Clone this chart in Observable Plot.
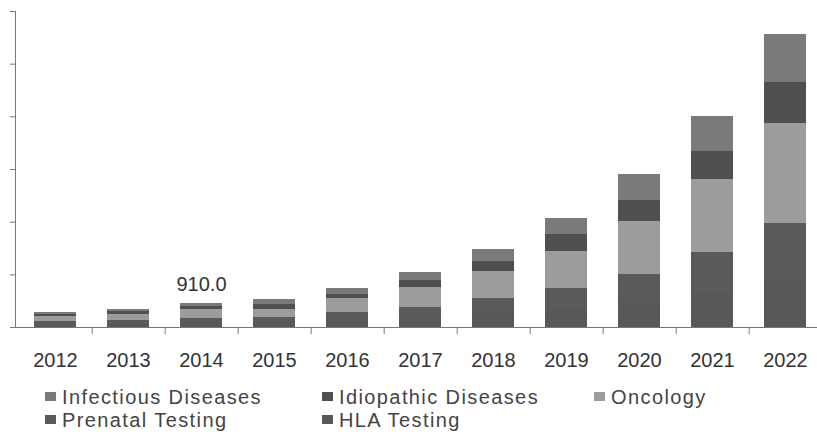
<!DOCTYPE html>
<html>
<head>
<meta charset="utf-8">
<script src="https://cdn.jsdelivr.net/npm/d3@7"></script>
<script src="https://cdn.jsdelivr.net/npm/@observablehq/plot@0.6"></script>
<style>
  body { margin: 0; background: #fff; font-family: "Liberation Sans", Arial, sans-serif; }
  #wrap { position: relative; width: 817px; height: 440px; overflow: hidden; background: #fff; }
  #chart svg { display: block; }
  .leg { position: absolute; font-size: 20px; letter-spacing: 1.4px; color: #444; line-height: 23px; white-space: nowrap; height: 23px; }
  .leg .sw { position: absolute; left: 0; top: 6px; width: 11px; height: 9px; }
  .leg .tx { position: absolute; left: 17px; top: 0; }
</style>
</head>
<body>
<div id="wrap">
  <div id="chart"></div>
  <div id="legend"></div>
</div>
<script>
const years = ["2012","2013","2014","2015","2016","2017","2018","2019","2020","2021","2022"];
const seriesNames = ["Infectious Diseases","Idiopathic Diseases","Oncology","Prenatal Testing","HLA Testing"];
const seriesColors = ["#7a7a7a","#4f4f4f","#9c9c9c","#5a5a5a","#585858"];

const infectious = [80, 76, 106, 191, 229, 305, 457, 621, 991, 1334, 1844];
const idiopathic = [84, 95, 126, 191, 152, 267, 381, 648, 789, 1055, 1524];
const oncology   = [191, 229, 338, 305, 533, 762, 1029, 1398, 2000, 2793, 3810];
const prenatal   = [126, 147, 187, 216, 315, 419, 608, 813, 1110, 1561, 2175];
const hla        = [103, 120, 153, 176, 257, 343, 497, 665, 909, 1277, 1780];

// bottom-to-top stacking order
const stackOrder = ["HLA Testing","Prenatal Testing","Oncology","Idiopathic Diseases","Infectious Diseases"];

const annotYears = ["2014"];
const annotValues = [910.0];
const annotLabels = ["910.0"];

const yTicks = [0, 2000, 4000, 6000, 8000, 10000, 12000];

const seriesArrays = [infectious, idiopathic, oncology, prenatal, hla];
const data = [];
years.forEach((yr, i) => {
  seriesArrays.forEach((arr, j) => data.push({year: yr, series: seriesNames[j], value: arr[i]}));
});
const annotation = annotYears.map((y, i) => ({year: y, value: annotValues[i], label: annotLabels[i]}));

const xRange = [16, 823];
const step = (xRange[1] - xRange[0]) / years.length;

const chart = Plot.plot({
  width: 817,
  height: 378,
  marginTop: 11,
  marginLeft: 15,
  marginRight: 0,
  marginBottom: 51,
  style: { fontFamily: '"Liberation Sans", Arial, sans-serif', fontSize: "20px", color: "#333", background: "#fff" },
  x: { domain: years, range: xRange, paddingInner: 0.43, paddingOuter: 0.215, label: null },
  y: { domain: [0, 12000], label: null },
  color: { domain: seriesNames, range: seriesColors },
  marks: [
    Plot.barY(data, Plot.stackY({order: stackOrder}, {x: "year", y: "value", fill: "series", shapeRendering: "crispEdges"})),
    Plot.frame({anchor: "left", stroke: "#777"}),
    Plot.ruleY([0], {stroke: "#777"}),
    Plot.axisY({ticks: yTicks, tickSize: 5, tickFormat: () => "", color: "#777", label: null}),
    Plot.axisX({tickSize: 7, tickFormat: () => "", dx: step / 2, color: "#777", label: null}),
    Plot.axisX({tickSize: 0, tickPadding: 25, fontSize: 20, color: "#333", label: null}),
    Plot.text(annotation, {x: "year", y: "value", text: "label", dy: -13, lineAnchor: "bottom", fontSize: 20, fill: "#333"})
  ]
});
document.getElementById("chart").appendChild(chart);

// legend
const legendCols = [45, 322, 594];
const legendRows = [386, 409];
const legend = document.getElementById("legend");
seriesNames.forEach((name, i) => {
  const item = document.createElement("div");
  item.className = "leg";
  item.style.left = legendCols[i % 3] + "px";
  item.style.top = legendRows[Math.floor(i / 3)] + "px";
  const sw = document.createElement("span");
  sw.className = "sw";
  sw.style.background = seriesColors[i];
  const tx = document.createElement("span");
  tx.className = "tx";
  tx.textContent = name;
  item.appendChild(sw);
  item.appendChild(tx);
  legend.appendChild(item);
});
</script>
</body>
</html>
